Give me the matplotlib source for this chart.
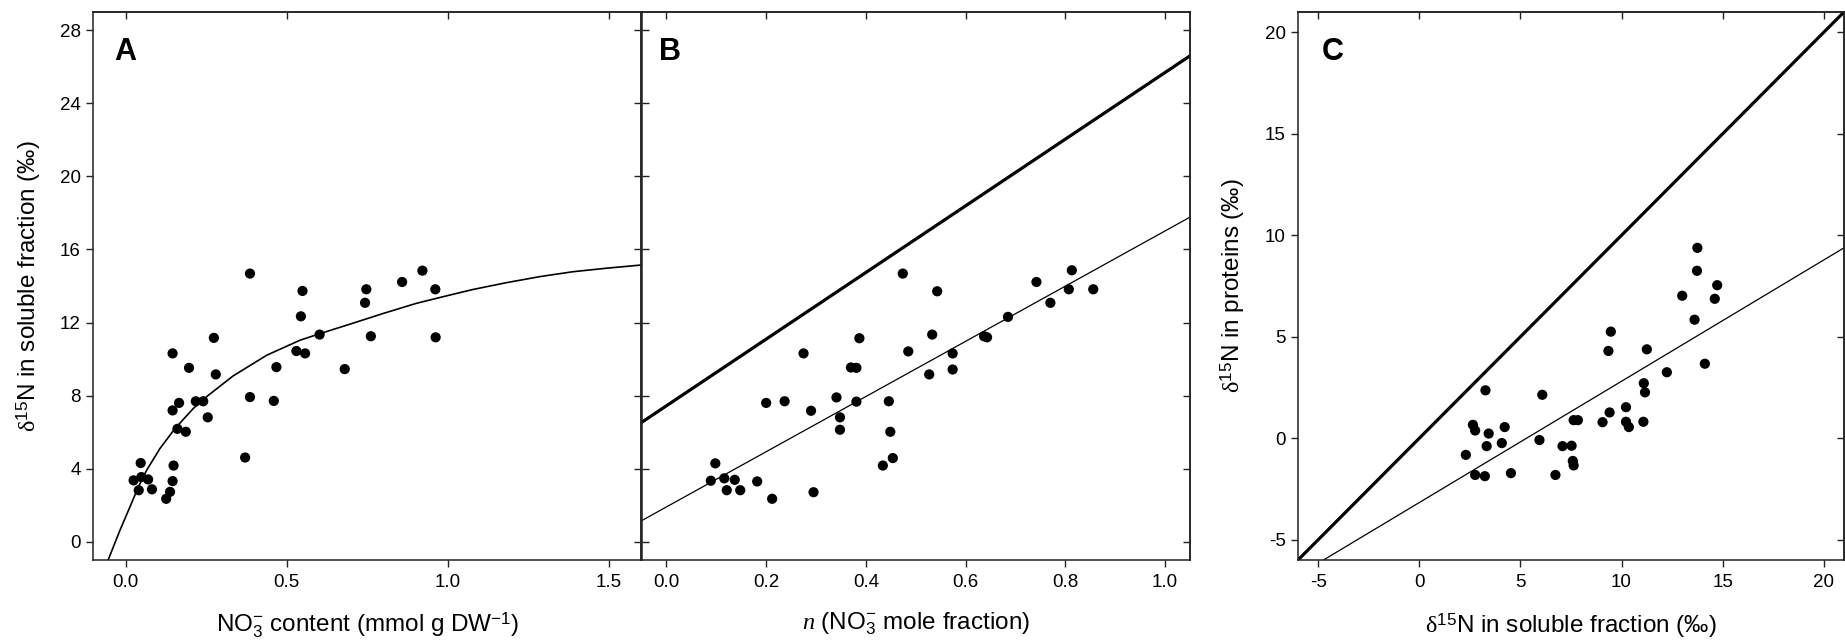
"""Three-panel d15N scatter figure (soluble fraction vs nitrate, mole fraction, proteins)."""

import matplotlib

matplotlib.use("Agg")
import matplotlib.pyplot as plt

plt.rcParams["font.family"] = ["Liberation Sans", "DejaVu Sans"]
plt.rcParams["mathtext.fontset"] = "custom"
plt.rcParams["mathtext.rm"] = "Liberation Sans"
plt.rcParams["mathtext.it"] = "Liberation Serif:italic"
plt.rcParams["mathtext.sf"] = "Liberation Serif"
plt.rcParams["axes.unicode_minus"] = False

# panel A: NO3- content vs d15N soluble fraction
a_x = [0.025, 0.047, 0.049, 0.041, 0.070, 0.082, 0.126, 0.138, 0.146, 0.149,
       0.146, 0.146, 0.161, 0.166, 0.187, 0.197, 0.218, 0.241, 0.255, 0.274,
       0.280, 0.371, 0.386, 0.386, 0.460, 0.468, 0.530, 0.544, 0.549, 0.557,
       0.602, 0.680, 0.743, 0.747, 0.761, 0.858, 0.921, 0.961, 0.962]
a_y = [3.36, 4.31, 3.54, 2.82, 3.41, 2.87, 2.35, 2.73, 3.32, 4.17,
       10.31, 7.19, 6.18, 7.60, 6.02, 9.52, 7.69, 7.69, 6.81, 11.16,
       9.16, 4.61, 14.68, 7.92, 7.71, 9.56, 10.44, 12.34, 13.73, 10.31,
       11.34, 9.45, 13.08, 13.82, 11.25, 14.22, 14.84, 13.82, 11.19]
# fitted curve
a_fit_x = [-0.054, -0.017, 0.014, 0.040, 0.066, 0.107, 0.154, 0.211, 0.257,
           0.334, 0.438, 0.541, 0.601, 0.696, 0.800, 0.902, 1.005, 1.078,
           1.181, 1.284, 1.387, 1.490, 1.600]
a_fit_y = [-1.00, 0.64, 1.92, 3.01, 3.93, 5.11, 6.21, 7.31, 8.02,
           9.08, 10.21, 11.03, 11.38, 11.91, 12.50, 13.05, 13.50, 13.81,
           14.18, 14.51, 14.78, 14.97, 15.15]

# panel B: NO3- mole fraction vs d15N soluble fraction
b_x = [0.098, 0.089, 0.116, 0.137, 0.121, 0.148, 0.182, 0.212, 0.295, 0.200,
       0.237, 0.275, 0.290, 0.341, 0.348, 0.348, 0.370, 0.381, 0.381, 0.387,
       0.434, 0.446, 0.449, 0.454, 0.474, 0.485, 0.527, 0.533, 0.543, 0.574,
       0.574, 0.637, 0.643, 0.685, 0.742, 0.770, 0.807, 0.813, 0.856]
b_y = [4.29, 3.34, 3.47, 3.39, 2.82, 2.82, 3.30, 2.35, 2.71, 7.60,
       7.69, 10.31, 7.17, 7.90, 6.81, 6.13, 9.54, 9.52, 7.67, 11.14,
       4.17, 7.69, 6.02, 4.58, 14.68, 10.42, 9.16, 11.34, 13.71, 10.31,
       9.43, 11.25, 11.19, 12.31, 14.22, 13.08, 13.82, 14.86, 13.82]
b_line_x = [-0.05, 1.05]
b_thick_y = [6.53, 26.6]
b_thin_y = [1.15, 17.77]

# panel C: d15N soluble fraction vs d15N proteins
c_x = [2.30, 2.65, 2.76, 2.76, 3.27, 3.33, 3.24, 3.43, 4.08, 4.22,
       4.53, 5.94, 6.08, 6.73, 7.08, 7.53, 7.59, 7.63, 7.63, 7.84,
       9.06, 9.35, 9.41, 9.47, 10.22, 10.22, 10.36, 11.08, 11.10, 11.16,
       11.25, 12.24, 13.00, 13.61, 13.73, 13.75, 14.12, 14.61, 14.73]
c_y = [-0.82, 0.66, 0.38, -1.81, 2.36, -0.39, -1.87, 0.23, -0.24, 0.55,
       -1.72, -0.09, 2.14, -1.81, -0.39, -0.37, -1.12, -1.34, 0.89, 0.89,
       0.79, 4.30, 1.27, 5.25, 1.53, 0.81, 0.55, 0.81, 2.71, 2.26,
       4.38, 3.25, 7.02, 5.84, 8.25, 9.38, 3.67, 6.87, 7.54]
c_thick_x = [-6, 21]
c_thick_y = [-6, 21]
c_thin_x = [-4.74, 21]
c_thin_y = [-6.0, 9.38]

SPINE = "#222222"
LABEL_SIZE = 17.5
TICK_SIZE = 13.5
XLABEL_Y = -0.093


def style_axes(ax, xticks, yticks, left_labels=True):
    """Bottom/left ticks outward, mirrored top/right ticks inward."""
    ax.set_xticks(xticks)
    ax.set_yticks(yticks)
    ax.tick_params(axis="x", direction="out", length=5, width=1, pad=5,
                   labelsize=TICK_SIZE, color=SPINE)
    ax.tick_params(axis="y", direction="out" if left_labels else "in",
                   length=5, width=1, pad=4, labelsize=TICK_SIZE, color=SPINE,
                   labelleft=left_labels)
    top = ax.secondary_xaxis("top")
    top.set_xticks(xticks)
    top.tick_params(direction="in", length=5, width=1, labeltop=False, color=SPINE)
    right = ax.secondary_yaxis("right")
    right.set_yticks(yticks)
    right.tick_params(direction="in", length=5, width=1, labelright=False, color=SPINE)
    for sec in (top, right):
        for spine in sec.spines.values():
            spine.set_color(SPINE)
            spine.set_linewidth(1.1)
    for spine in ax.spines.values():
        spine.set_color(SPINE)
        spine.set_linewidth(1.1)


fig = plt.figure(figsize=(18.45, 6.44), dpi=100)
bottom = 84 / 644
height = 548 / 644

ax_a = fig.add_axes([93.3 / 1845, bottom, 548 / 1845, height])
ax_b = fig.add_axes([641.5 / 1845, bottom, 548.5 / 1845, height])
ax_c = fig.add_axes([1298 / 1845, bottom, 546 / 1845, height])

dot = dict(s=54, color="black", edgecolors="none", zorder=3)

# A
ax_a.plot(a_fit_x, a_fit_y, color="black", lw=1.2)
ax_a.scatter(a_x, a_y, **dot)
ax_a.set_xlim(-0.1, 1.6)
ax_a.set_ylim(-1, 29)
style_axes(ax_a, [0.0, 0.5, 1.0, 1.5], list(range(0, 29, 4)))
ax_a.set_xticklabels(["0.0", "0.5", "1.0", "1.5"])
ax_a.set_xlabel(r"NO$_3^{-}$ content (mmol g DW$^{-1}$)", fontsize=LABEL_SIZE)
ax_a.set_ylabel(r"$\mathsf{\delta}^{15}$N in soluble fraction (‰)", fontsize=LABEL_SIZE)
ax_a.xaxis.set_label_coords(0.5, XLABEL_Y)
ax_a.yaxis.set_label_coords(-0.092, 0.5)
ax_a.text(0.038, 0.955, "A", transform=ax_a.transAxes, fontsize=22,
          fontweight="bold", ha="left", va="top")

# B
ax_b.plot(b_line_x, b_thick_y, color="black", lw=2.3)
ax_b.plot(b_line_x, b_thin_y, color="black", lw=0.9)
ax_b.scatter(b_x, b_y, **dot)
ax_b.set_xlim(-0.05, 1.05)
ax_b.set_ylim(-1, 29)
style_axes(ax_b, [0.0, 0.2, 0.4, 0.6, 0.8, 1.0], list(range(0, 29, 4)), left_labels=False)
ax_b.set_xticklabels(["0.0", "0.2", "0.4", "0.6", "0.8", "1.0"])
ax_b.set_xlabel(r"$n$ (NO$_3^{-}$ mole fraction)", fontsize=LABEL_SIZE)
ax_b.xaxis.set_label_coords(0.5, XLABEL_Y)
ax_b.text(0.031, 0.955, "B", transform=ax_b.transAxes, fontsize=22,
          fontweight="bold", ha="left", va="top")

# C
ax_c.plot(c_thick_x, c_thick_y, color="black", lw=2.3)
ax_c.plot(c_thin_x, c_thin_y, color="black", lw=0.9)
ax_c.scatter(c_x, c_y, **dot)
ax_c.set_xlim(-6, 21)
ax_c.set_ylim(-6, 21)
style_axes(ax_c, [-5, 0, 5, 10, 15, 20], [-5, 0, 5, 10, 15, 20])
ax_c.set_xlabel(r"$\mathsf{\delta}^{15}$N in soluble fraction (‰)", fontsize=LABEL_SIZE)
ax_c.set_ylabel(r"$\mathsf{\delta}^{15}$N in proteins (‰)", fontsize=LABEL_SIZE)
ax_c.xaxis.set_label_coords(0.5, XLABEL_Y)
ax_c.yaxis.set_label_coords(-0.094, 0.5)
ax_c.text(0.043, 0.955, "C", transform=ax_c.transAxes, fontsize=22,
          fontweight="bold", ha="left", va="top")

fig.savefig("out.png", dpi=100)
